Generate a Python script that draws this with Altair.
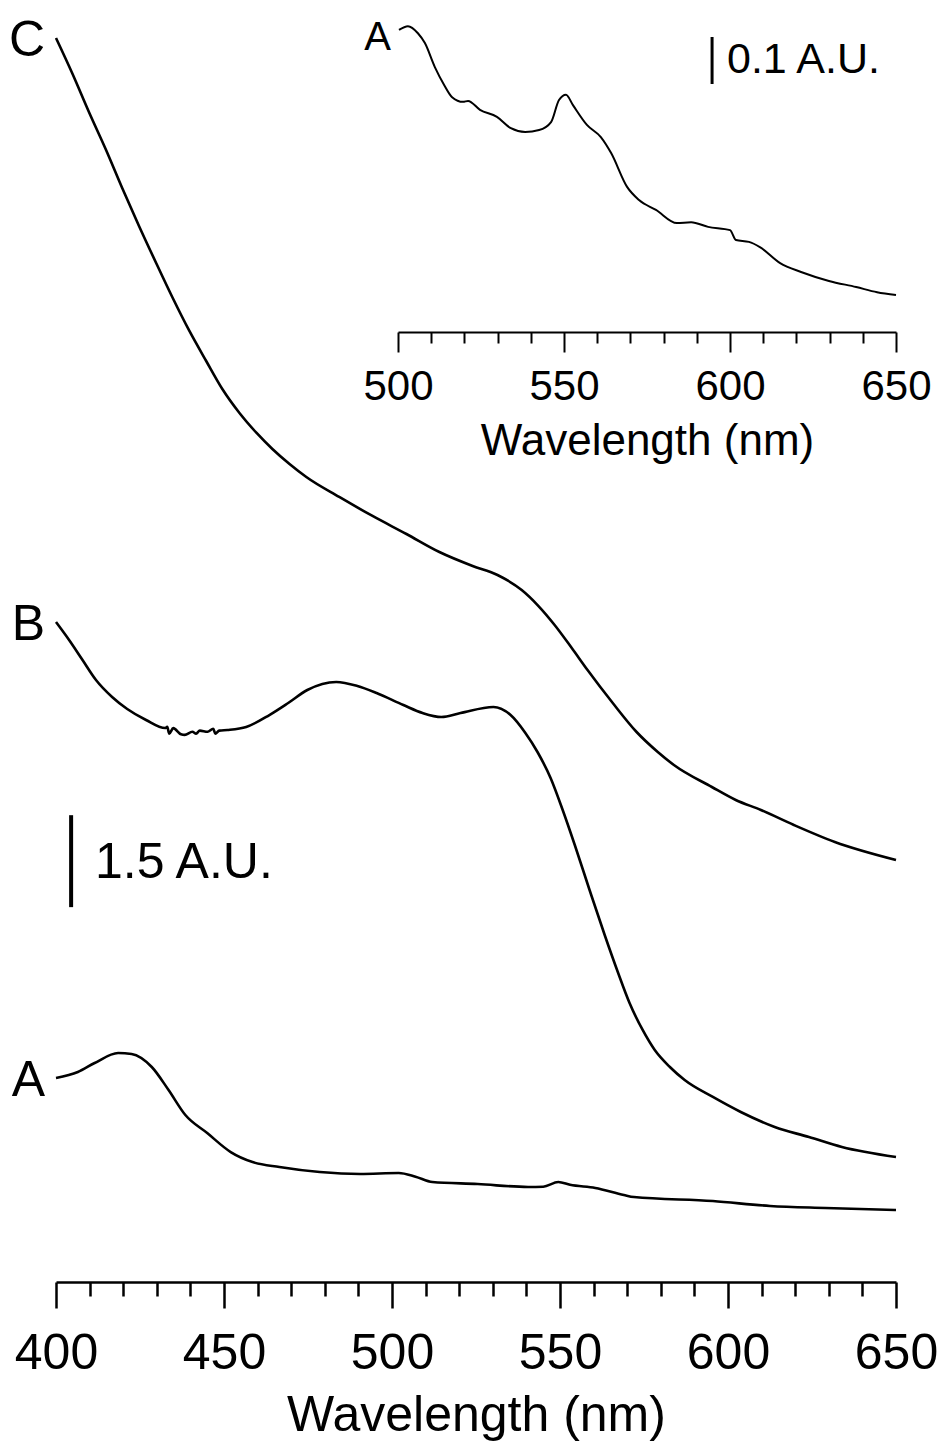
import altair as alt
import pandas as pd

# ---------------- data ----------------
# Spectrum A (main panel, offset absorbance, A.U.)
a_wl = [400, 406.5, 411.5, 418.5, 422.5, 428.5, 433.5, 438.5, 445, 452, 458.5, 466.5,
        478.5, 490.5, 502, 507, 512, 525.5, 540.5, 545, 549.5, 553, 560.5, 569, 572,
        595.5, 612.5, 629, 650]
a_abs = [3.263, 3.361, 3.507, 3.670, 3.654, 3.442, 3.067, 2.659, 2.365, 2.055, 1.892, 1.811,
         1.729, 1.697, 1.713, 1.653, 1.566, 1.533, 1.485, 1.49, 1.566, 1.52, 1.468, 1.354, 1.321,
         1.256, 1.175, 1.142, 1.109]

# Spectrum B
b_wl = [400, 403.9, 407.7, 411.9, 416.7, 421.2, 426.8, 432.5, 433.1, 433.7, 434.9,
        437.2, 438.3, 440.6, 441.7, 442.8, 445.1, 446.8, 447.4, 448.6, 451.0, 456.6, 463.5,
        469.1, 474.8, 483.4, 489.7, 495.4, 503.4, 509.1, 514.7, 520.4, 530.2, 535.3, 539.7,
        543.3, 547.2, 550.8, 554.4, 558.8, 563.3, 567.2, 570.7, 574.6, 578.2, 582.7, 587.1,
        595.5, 603.8, 613.9, 624.1, 633.9, 650.0]
b_abs = [10.701, 10.408, 10.098, 9.755, 9.478, 9.282, 9.103, 8.972, 8.99, 8.88, 8.97,
         8.87, 8.86, 8.91, 8.88, 8.93, 8.91, 8.96, 8.88, 8.93, 8.94, 8.989, 9.184,
         9.380, 9.592, 9.723, 9.657, 9.543, 9.347, 9.217, 9.152, 9.217, 9.315, 9.184, 8.891,
         8.581, 8.157, 7.635, 7.064, 6.330, 5.595, 4.992, 4.486, 4.046, 3.719, 3.442, 3.230,
         2.953, 2.708, 2.463, 2.300, 2.137, 1.974]

# Spectrum C
c_wl = [400, 404.8, 409.8, 414.9, 419.7, 424.7, 429.8, 434.6, 439.7, 444.7, 449.5, 454.6,
        459.7, 464.4, 469.5, 474.5, 484.3, 494.2, 504.3, 514.1, 524.0, 531.4, 538.6, 543.6,
        548.4, 553.5, 558.2, 565.7, 572.8, 579.1, 583.9, 595.2, 602.3, 609.8, 619.6, 631.8, 650]
c_abs = [20.228, 19.657, 19.021, 18.401, 17.781, 17.162, 16.558, 16.003, 15.449, 14.959,
         14.502, 14.111, 13.785, 13.524, 13.279, 13.067, 12.741, 12.431, 12.137, 11.843,
         11.615, 11.468, 11.223, 10.962, 10.653, 10.277, 9.918, 9.380, 8.907, 8.581, 8.369,
         8.010, 7.798, 7.635, 7.390, 7.113, 6.819]

# Inset: spectrum A, 500-650 nm (A.U.)
i_wl = [500.3, 503.0, 506.0, 508.1, 511.1, 513.9, 516.3, 519.6, 521.1, 524.7, 529.8, 534.0,
        538.3, 542.5, 546.1, 548.5, 550.6, 552.7, 556.9, 561.1, 564.2, 569.0, 572.6, 577.7,
        584.0, 588.3, 593.4, 600.0, 601.8, 605.7, 609.0, 615.1, 621.4, 629.8, 638.0, 644.3,
        650.0]
i_abs = [0.614, 0.622, 0.607, 0.586, 0.535, 0.497, 0.471, 0.461, 0.463, 0.444, 0.429, 0.405,
         0.397, 0.401, 0.418, 0.465, 0.476, 0.454, 0.412, 0.386, 0.352, 0.280, 0.252, 0.231,
         0.203, 0.205, 0.195, 0.188, 0.167, 0.163, 0.152, 0.118, 0.099, 0.080, 0.067, 0.056,
         0.050]

major_ticks = [400, 450, 500, 550, 600, 650]
minor_ticks = [410, 420, 430, 440, 460, 470, 480, 490, 510, 520, 530, 540,
               560, 570, 580, 590, 610, 620, 630, 640]
inset_major = [500, 550, 600, 650]
inset_minor = [510, 520, 530, 540, 560, 570, 580, 590, 610, 620, 630, 640]

series_names = ["A", "B", "C"]

# scale bars: (wavelength, low, high, label)
main_bar = {"wl": 404.5, "lo": 6.05, "hi": 7.55, "label": "1.5 A.U.", "label_wl": 411.6, "label_y": 6.80}
inset_bar = {"wl": 594.6, "lo": 0.499, "hi": 0.599, "label": "0.1 A.U.", "label_wl": 599.1, "label_y": 0.554}

# ---------------- build tables ----------------
main_df = pd.concat([
    pd.DataFrame({"wl": a_wl, "abs": a_abs, "series": "A"}),
    pd.DataFrame({"wl": b_wl, "abs": b_abs, "series": "B"}),
    pd.DataFrame({"wl": c_wl, "abs": c_abs, "series": "C"}),
], ignore_index=True)
inset_df = pd.DataFrame({"wl": i_wl, "abs": i_abs})
letters_df = pd.DataFrame({
    "wl": [a_wl[0], b_wl[0], c_wl[0]],
    "abs": [a_abs[0], b_abs[0], c_abs[0]],
    "label": series_names,
})
inset_letter_df = pd.DataFrame({"wl": [i_wl[0]], "abs": [i_abs[0]], "label": ["A"]})
minor_df = pd.DataFrame({"wl": minor_ticks})
inset_minor_df = pd.DataFrame({"wl": inset_minor})
main_bar_df = pd.DataFrame([main_bar])
inset_bar_df = pd.DataFrame([inset_bar])

FONT = "Liberation Sans"
X_MAIN = alt.Scale(domain=[400, 650], nice=False, zero=False)
Y_MAIN = alt.Scale(domain=[-0.065, 20.848], nice=False, zero=False)
X_INS = alt.Scale(domain=[500, 650], range=[342, 840], nice=False, zero=False)
Y_INS = alt.Scale(domain=[-2.05, 0.6777], nice=False, zero=False)

major_axis = alt.Axis(values=major_ticks, orient="bottom", tickSize=26, tickWidth=2.5,
                      domainWidth=2.5, labelFontSize=50, titleFontSize=50, labelPadding=20,
                      titlePadding=12, labelFlush=False, labelOverlap=False, grid=False,
                      format="d", title="Wavelength (nm)")
minor_axis = alt.Axis(values=minor_ticks, orient="bottom", tickSize=14, tickWidth=2.5,
                      domain=False, labels=False, grid=False, title=None)
inset_axis = alt.Axis(values=inset_major, orient="bottom", offset=-950, tickSize=20,
                      tickWidth=2, domainWidth=2, labelFontSize=42, titleFontSize=44,
                      labelPadding=14, titlePadding=12, labelFlush=False, labelOverlap=False,
                      grid=False, format="d", title="Wavelength (nm)")
inset_minor_axis = alt.Axis(values=inset_minor, orient="bottom", offset=-950, tickSize=11,
                            tickWidth=2, domain=False, labels=False, grid=False, title=None)

lines = alt.Chart(main_df).mark_line(color="black", strokeWidth=2.6, interpolate="monotone").encode(
    x=alt.X("wl:Q", scale=X_MAIN, axis=major_axis),
    y=alt.Y("abs:Q", scale=Y_MAIN, axis=None),
    detail="series:N",
)
minor = alt.Chart(minor_df).mark_point(opacity=0).encode(
    x=alt.X("wl:Q", scale=X_MAIN, axis=minor_axis),
)
letters = alt.Chart(letters_df).mark_text(font=FONT, fontSize=50, align="right", baseline="middle",
                                          dx=-11, dy=3, color="black").encode(
    x=alt.X("wl:Q", scale=X_MAIN, axis=None),
    y=alt.Y("abs:Q", scale=Y_MAIN, axis=None),
    text="label:N",
)
bar = alt.Chart(main_bar_df).mark_rule(color="black", strokeWidth=4).encode(
    x=alt.X("wl:Q", scale=X_MAIN, axis=None),
    y=alt.Y("lo:Q", scale=Y_MAIN, axis=None),
    y2="hi:Q",
)
bar_text = alt.Chart(main_bar_df).mark_text(font=FONT, fontSize=50, align="left", baseline="middle",
                                            dy=2, color="black").encode(
    x=alt.X("label_wl:Q", scale=X_MAIN, axis=None),
    y=alt.Y("label_y:Q", scale=Y_MAIN, axis=None),
    text="label:N",
)

inset_line = alt.Chart(inset_df).mark_line(color="black", strokeWidth=2, interpolate="monotone").encode(
    x=alt.X("wl:Q", scale=X_INS, axis=inset_axis),
    y=alt.Y("abs:Q", scale=Y_INS, axis=None),
)
inset_minor_layer = alt.Chart(inset_minor_df).mark_point(opacity=0).encode(
    x=alt.X("wl:Q", scale=X_INS, axis=inset_minor_axis),
)
inset_letter = alt.Chart(inset_letter_df).mark_text(font=FONT, fontSize=40, align="right",
                                                   baseline="middle", dx=-8, dy=8, color="black").encode(
    x=alt.X("wl:Q", scale=X_INS, axis=None),
    y=alt.Y("abs:Q", scale=Y_INS, axis=None),
    text="label:N",
)
inset_bar_rule = alt.Chart(inset_bar_df).mark_rule(color="black", strokeWidth=3).encode(
    x=alt.X("wl:Q", scale=X_INS, axis=None),
    y=alt.Y("lo:Q", scale=Y_INS, axis=None),
    y2="hi:Q",
)
inset_bar_text = alt.Chart(inset_bar_df).mark_text(font=FONT, fontSize=43, align="left",
                                                   baseline="middle", dy=2, color="black").encode(
    x=alt.X("label_wl:Q", scale=X_INS, axis=None),
    y=alt.Y("label_y:Q", scale=Y_INS, axis=None),
    text="label:N",
)

chart = alt.layer(
    lines, minor, letters, bar, bar_text,
    inset_line, inset_minor_layer, inset_letter, inset_bar_rule, inset_bar_text,
).resolve_scale(x="independent", y="independent").resolve_axis(
    x="independent", y="independent"
).properties(
    width=840, height=1282,
    autosize=alt.AutoSizeParams(type="none"),
    padding={"left": 56, "top": 0, "right": 45, "bottom": 163},
).configure_view(stroke=None).configure_axis(
    labelFont=FONT, titleFont=FONT, labelColor="black", titleColor="black",
    domainColor="black", tickColor="black", titleFontWeight="normal",
)

chart.save("out.html", embed_options={"renderer": "svg", "actions": False})
